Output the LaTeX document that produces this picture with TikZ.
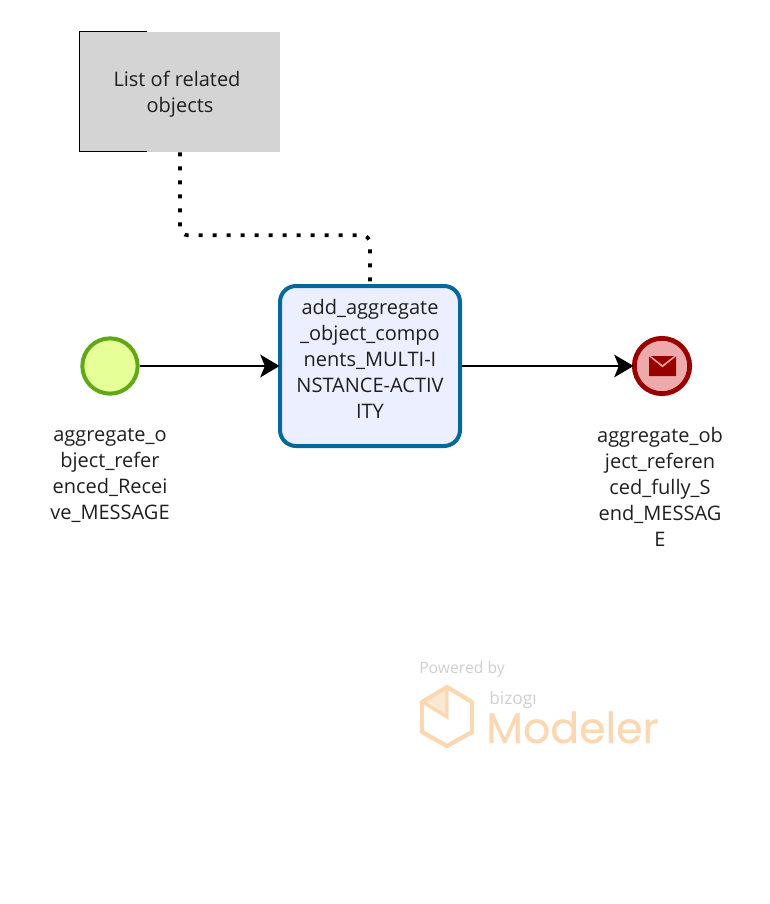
\documentclass[tikz,border=0pt]{standalone}
\usepackage{fontspec}
\setmainfont{Open Sans}
\newfontfamily\logofont[FakeBold=0.4]{Poppins}
\usetikzlibrary{arrows.meta,calc}
\definecolor{annfill}{HTML}{D4D4D4}
\definecolor{startline}{HTML}{62A716}
\definecolor{startfill}{HTML}{E6FF97}
\definecolor{taskline}{HTML}{03689A}
\definecolor{taskfill}{HTML}{ECEFFF}
\definecolor{endline}{HTML}{990000}
\definecolor{endfill}{HTML}{EEAAAA}
\definecolor{logoorange}{HTML}{FBD7B2}
\definecolor{logofold}{HTML}{FDE8D3}
\definecolor{logogrey}{HTML}{CFCFCF}
\tikzset{
  x=0.75pt,y=-0.75pt,
  txt/.style={font=\fontsize{15pt}{19.5pt}\selectfont,text=black!88,align=center,inner sep=0pt},
  annbox/.style={fill=annfill,minimum width=150pt,minimum height=90pt,inner sep=0pt},
  evt/.style={circle,minimum size=41.5pt,inner sep=0pt},
  startevt/.style={evt,draw=startline,fill=startfill,line width=3pt},
  endevt/.style={evt,draw=endline,fill=endfill,line width=3.6pt},
  taskbox/.style={draw=taskline,fill=taskfill,line width=3pt,rounded corners=12pt,minimum width=135pt,minimum height=120pt,inner sep=0pt},
  flow/.style={draw=black,line width=1.5pt,shorten >=-1.2pt,-{Stealth[length=14.5pt,width=17pt,inset=3.5pt]}},
  assoc/.style={draw=black,line width=2.8pt,dash pattern=on 3pt off 7.5pt,rounded corners=6pt},
  logotxt/.style={inner sep=0pt,anchor=base west},
}
\begin{document}
\begin{tikzpicture}
\useasboundingbox (0,0) rectangle (770,904);
% annotation
\node[annbox] (ann) at (180,92) {};
\node[txt] (anntext) at (180,94) {List of related\hspace*{4.5pt}\\objects};
\draw[black,line width=0.75pt] (147,31.5) -- (79.5,31.5) -- (79.5,151.5) -- (147,151.5);
% events and task
\node[startevt] (start) at (110,366) {};
\node[taskbox] (task) at (370,366) {};
\node[txt] (tasktext) at (370,358.5) {add\_aggregate\\\_object\_compo\\nents\_MULTI-I\\NSTANCE-ACTIV\\ITY};
\node[endevt] (end) at (662,366) {};
\node[txt] (startlabel) at (110,475) {aggregate\_o\\bject\_refer\\enced\_Recei\\ve\_MESSAGE};
\node[txt] (endlabel) at (660,487) {aggregate\_ob\\ject\_referen\\ced\_fully\_S\\end\_MESSAG\\E};
% envelope
\fill[endline] (649,356.5) -- (662.5,367.5) -- (676,356.5) -- (676,376) -- (649,376) -- cycle;
\fill[endline] (651,356) -- (674,356) -- (662.5,365) -- cycle;
% connectors
\draw[flow] (start) -- (task);
\draw[flow] (task) -- (end);
\draw[assoc] (ann.south) -- ($(ann.south)+(0,83)$) -| (task.north);
% logo
\fill[logofold] (422,703) -- (447,686) -- (447,718) -- cycle;
\draw[logoorange,line width=3.2pt,line join=round] (447,687) -- (472,702) -- (472,732) -- (447,746) -- (422,732) -- (422,702) -- cycle;
\draw[logoorange,line width=2.4pt] (424,703) -- (447,717) -- (447,688);
\node[logotxt,text=logogrey,font=\fontsize{11.8pt}{13pt}\selectfont] (powered) at (419,673) {Powered by};
\node[logotxt,text=logogrey,font=\fontsize{13pt}{15pt}\selectfont] (bizogi) at (489,704) {bizogı};
\node[logotxt,text=logoorange,font=\logofont\fontsize{32pt}{35pt}\selectfont] (modeler) at (486,743) {Modeler};
\end{tikzpicture}
\end{document}
